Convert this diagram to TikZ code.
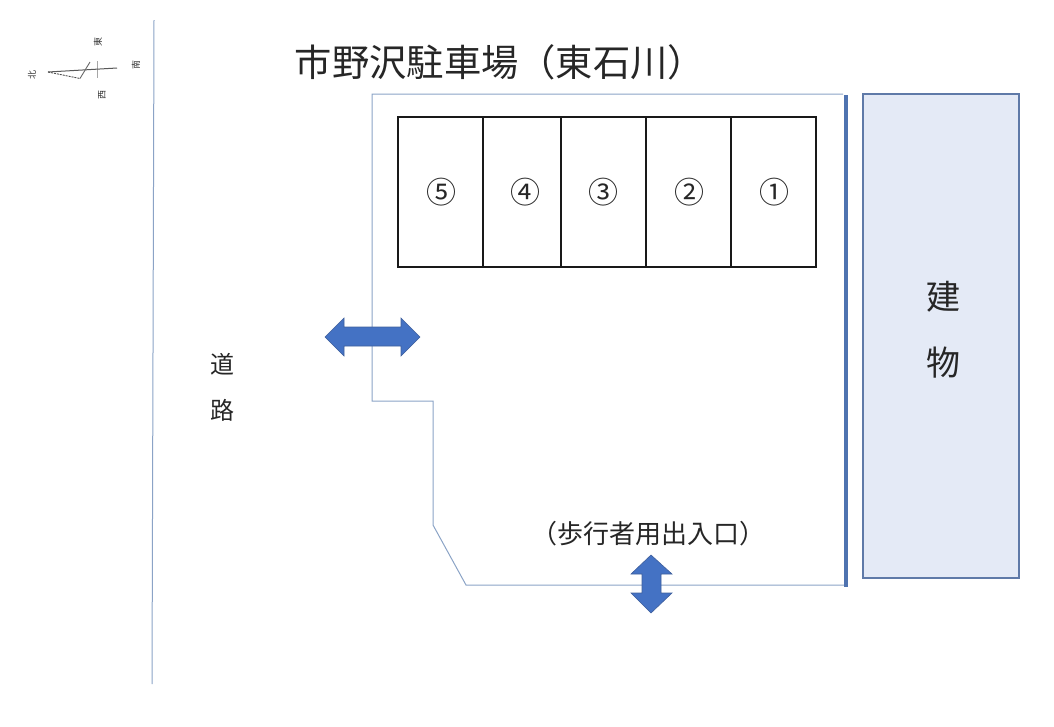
\documentclass[tikz,border=0pt]{standalone}
\usepackage{fontspec}
\setmainfont{Noto Sans CJK JP}[Scale=1]
\definecolor{siteline}{HTML}{8BA3C6}
\definecolor{wallblue}{HTML}{4F73B0}
\definecolor{arrowblue}{HTML}{4472C4}
\definecolor{arrowedge}{HTML}{3F5F9C}
\definecolor{bldfill}{HTML}{E4EAF6}
\definecolor{bldedge}{HTML}{5F7AA8}
\tikzset{
  px/.style={x=1pt,y=-1pt},
  sitebound/.style={draw=siteline,line width=1pt,line join=miter},
  slotbox/.style={draw=black!90,line width=1.2pt,minimum height=150pt,inner sep=0pt,outer sep=0pt},
  label/.style={inner sep=0pt,outer sep=0pt,text=black!85},
  slotnum/.style={inner sep=0pt,outer sep=0pt,text=black!85,font=\fontsize{30}{30}\selectfont},
  bigarrow/.style={fill=arrowblue,draw=arrowedge,line width=.6pt,line join=miter},
  compasstext/.style={inner sep=0pt,font=\fontsize{9}{9}\selectfont,text=black!80,rotate=90}
}
\begin{document}
\begin{tikzpicture}[px]
\useasboundingbox (0,0) rectangle (1054,726);
% road edge
\coordinate (roadtop) at (154,20);
\coordinate (roadbot) at (152,684);
\draw[siteline,line width=1pt] (roadtop) -- (roadbot);
% compass
\coordinate (cwest) at (48,72);
\coordinate (ceast) at (117,68);
\coordinate (cknee) at (80,78.5);
\coordinate (ctip) at (90,62);
\coordinate (ctop) at (97,61);
\coordinate (cbot) at (97,78);
\draw[gray!70,line width=1pt] (ctop) -- (cbot);
\draw[black!65,line width=1pt] (cwest) -- (ceast);
\draw[black!70,line width=.9pt,dash pattern=on 2pt off 1pt] (cwest) -- (cknee);
\draw[black!60,line width=.9pt] (cknee) -- (ctip);
\node[compasstext] (ne) at (98,42) {東};
\node[compasstext] (ns) at (136,65) {南};
\node[compasstext] (nw) at (102,95) {西};
\node[compasstext] (nn) at (32,75) {北};
% title
\node[label,font=\fontsize{37.3}{37.3}\selectfont] (title) at (500,62) {市野沢駐車場（東石川）};
% site boundary
\draw[sitebound] (843,94) -- (372,94) -- (372,401) -- (433,401) -- (433,525) -- (466,585) -- (846,585);
\draw[wallblue,line width=4pt] (846,95) -- (846,587);
% parking slots
\node[slotbox,minimum width=85pt] (s5) at (440.5,192) {};
\node[slotbox,minimum width=78pt] (s4) at (522,192) {};
\node[slotbox,minimum width=85pt] (s3) at (603.5,192) {};
\node[slotbox,minimum width=85pt] (s2) at (688.5,192) {};
\node[slotbox,minimum width=85pt] (s1) at (773.5,192) {};
\node[slotnum] (n5) at (441,192) {⑤};
\node[slotnum] (n4) at (525,192) {④};
\node[slotnum] (n3) at (603,192) {③};
\node[slotnum] (n2) at (689,192) {②};
\node[slotnum] (n1) at (774,192) {①};
% building
\node[draw=bldedge,fill=bldfill,line width=1.1pt,minimum width=156pt,minimum height=484pt,inner sep=0pt,outer sep=0pt] (bld) at (941,336) {};
\node[label,font=\fontsize{34}{34}\selectfont] (b1) at (943,297) {建};
\node[label,font=\fontsize{34}{34}\selectfont] (b2) at (943,363) {物};
% road label
\node[label,font=\fontsize{24}{24}\selectfont] (r1) at (222,364) {道};
\node[label,font=\fontsize{24}{24}\selectfont] (r2) at (222,410) {路};
% pedestrian label
\node[label,font=\fontsize{26}{26}\selectfont] (ped) at (648.5,534) {（歩行者用出入口）};
% arrows
\draw[bigarrow] (325,337) -- (344,318) -- (344,327) -- (401,327) -- (401,318) -- (420,337) -- (401,356) -- (401,346) -- (344,346) -- (344,356) -- cycle;
\draw[bigarrow] (651,555) -- (672,574) -- (661,574) -- (661,593) -- (672,593) -- (651,613) -- (631,593) -- (642,593) -- (642,574) -- (631,574) -- cycle;
\end{tikzpicture}
\end{document}
